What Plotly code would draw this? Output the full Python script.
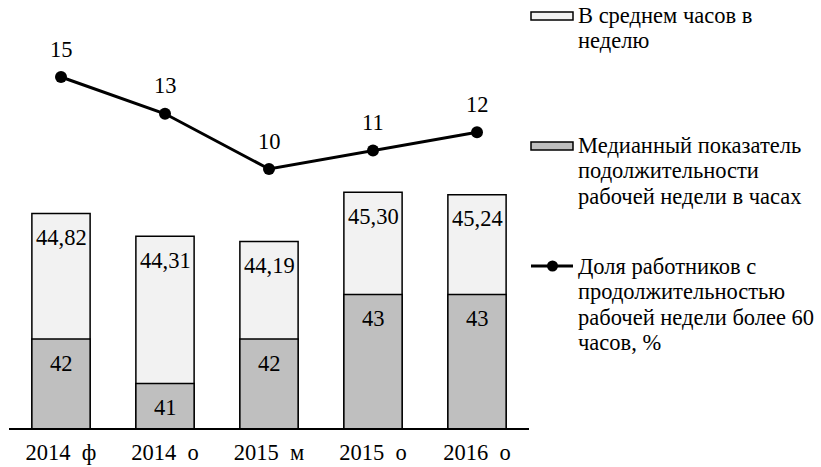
import plotly.graph_objects as go

categories = ["2014\u2002ф", "2014\u2002о", "2015\u2002м", "2015\u2002о", "2016\u2002о"]
avg_hours = [44.82, 44.31, 44.19, 45.30, 45.24]
avg_labels = ["44,82", "44,31", "44,19", "45,30", "45,24"]
median_hours = [42, 41, 42, 43, 43]
share_over60 = [15, 13, 10, 11, 12]

legend_avg = ["В среднем часов в", "неделю"]
legend_med = ["Медианный показатель", "подолжительности", "рабочей недели в часах"]
legend_share = ["Доля работников с", "продолжительностью", "рабочей недели более 60", "часов, %"]

FONT = "Liberation Serif"
FS = 22.5
W, H = 821, 467
ML, MR, MT, MB = 9, 292, 20, 39
PW = W - ML - MR
PH = H - MT - MB

def px(x):
    return (x - ML) / PW

def py(y):
    return (H - MB - y) / PH

fig = go.Figure()
fig.add_trace(go.Bar(x=categories, y=avg_hours, width=0.56,
                     marker=dict(color="#f2f2f2", line=dict(color="black", width=1.5)),
                     hoverinfo="skip", showlegend=False))
fig.add_trace(go.Bar(x=categories, y=median_hours, width=0.56,
                     marker=dict(color="#bfbfbf", line=dict(color="black", width=1.5)),
                     hoverinfo="skip", showlegend=False))
fig.add_trace(go.Scatter(x=categories, y=share_over60, yaxis="y2", mode="lines+markers",
                         line=dict(color="black", width=3),
                         marker=dict(color="black", size=12),
                         hoverinfo="skip", showlegend=False))

ann = []
for c, v, t in zip(categories, avg_hours, avg_labels):
    ann.append(dict(x=c, y=v, xref="x", yref="y", text=t, showarrow=False,
                    yshift=-24, yanchor="middle", font=dict(family=FONT, size=FS, color="black")))
for c, v in zip(categories, median_hours):
    ann.append(dict(x=c, y=v, xref="x", yref="y", text=str(v), showarrow=False,
                    yshift=-24, yanchor="middle", font=dict(family=FONT, size=FS, color="black")))
for c, v in zip(categories, share_over60):
    ann.append(dict(x=c, y=v, xref="x", yref="y2", text=str(v), showarrow=False,
                    yshift=28, yanchor="middle", font=dict(family=FONT, size=FS, color="black")))

def legend_text(lines, y0, step=25.5):
    for i, t in enumerate(lines):
        ann.append(dict(x=px(576), y=py(y0 + i * step), xref="paper", yref="paper",
                        text=t, showarrow=False, xanchor="left", yanchor="middle",
                        font=dict(family=FONT, size=FS, color="black")))

legend_text(legend_avg, 15)
legend_text(legend_med, 145)
legend_text(legend_share, 266)

shapes = [
    dict(type="rect", xref="paper", yref="paper", x0=px(531), x1=px(573), y0=py(20), y1=py(12),
         fillcolor="#f2f2f2", line=dict(color="black", width=1.5)),
    dict(type="rect", xref="paper", yref="paper", x0=px(531), x1=px(573), y0=py(150), y1=py(142),
         fillcolor="#bfbfbf", line=dict(color="black", width=1.5)),
    dict(type="line", xref="paper", yref="paper", x0=px(531), x1=px(573), y0=py(266), y1=py(266),
         line=dict(color="black", width=3)),
    dict(type="circle", xref="paper", yref="paper", x0=px(547), x1=px(558), y0=py(271.5), y1=py(260.5),
         fillcolor="black", line=dict(color="black", width=0)),
]

fig.update_layout(
    width=W, height=H,
    margin=dict(l=ML, r=MR, t=MT, b=MB, pad=0, autoexpand=False),
    paper_bgcolor="white", plot_bgcolor="white",
    barmode="overlay",
    font=dict(family=FONT, size=FS, color="black"),
    xaxis=dict(type="category", showline=True, linecolor="black", linewidth=2,
               showgrid=False, ticks="", ticklabelstandoff=3, automargin=False,
               tickfont=dict(family=FONT, size=FS, color="black")),
    yaxis=dict(range=[40, 40 + PH / 44.5], visible=False, showgrid=False, automargin=False),
    yaxis2=dict(range=[-75 / 18.4, (PH - 75) / 18.4], overlaying="y", visible=False,
                showgrid=False, automargin=False),
    annotations=ann,
    shapes=shapes,
    showlegend=False,
)

fig.write_html("out.html", config={"displayModeBar": False},
               post_script="document.body.style.margin='0';")
